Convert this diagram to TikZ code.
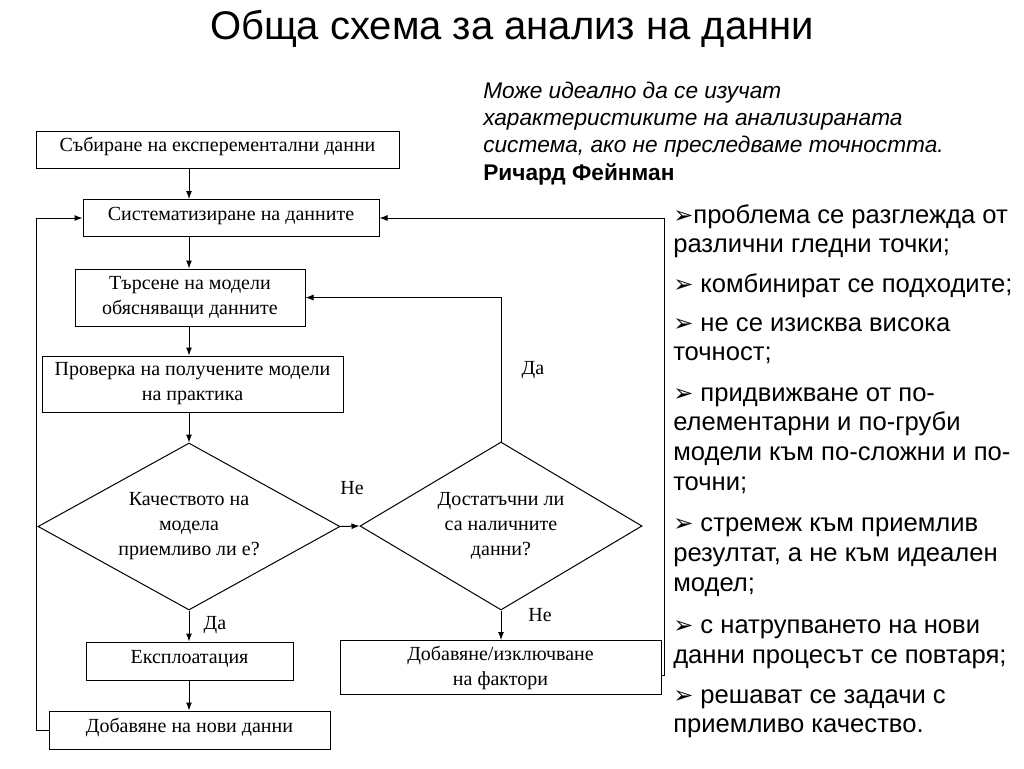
\documentclass[tikz,border=0pt]{standalone}
\usepackage{fontspec}
\setmainfont{Liberation Serif}
\setsansfont{Liberation Sans}
\newfontfamily\dingfont{DejaVu Sans}
\usetikzlibrary{shapes.geometric,arrows.meta,calc}
\def\px{0.75pt}
\def\bul{{\dingfont\fontsize{18}{18}\selectfont ➢}}
\newcommand\flowbox[6][]{%
  \node[box, #1, minimum width=#5*\px, minimum height=#6*\px] (#2) at (#3) {#4};
}
\newcommand\answer[3]{%
  \node[lbl] (#1) at (#2) {#3};
}

\begin{document}
\begin{tikzpicture}
[x=0.75pt, y=-0.75pt,
 box/.style={draw, line width=0.75pt, rectangle, inner sep=0, align=center,
   font=\fontsize{15}{18.75}\selectfont},
 oneline/.style={text height=8pt, text depth=5pt},
 dec/.style={draw, line width=0.75pt, diamond, aspect=1.8, inner sep=0, align=center,
   font=\fontsize{15}{18.75}\selectfont},
 flow/.style={-{Latex[length=6pt,width=4.5pt]}, line width=0.75pt},
 lbl/.style={inner sep=0, font=\fontsize{15}{18.75}\selectfont},
 quote/.style={anchor=base west, inner sep=0, font=\sffamily\itshape\fontsize{17}{20}\selectfont},
 bline/.style={anchor=base west, inner sep=0, font=\sffamily\fontsize{19.2}{22}\selectfont}]
\useasboundingbox (0,0) rectangle (1024,768);
% title
\node[anchor=base, inner sep=0, font=\sffamily\fontsize{30}{36}\selectfont] (title) at (512,39)
  {Обща схема за анализ на данни};
% quote
\node[quote] (q1) at (483,98)  {Може идеално да се изучат};
\node[quote] (q2) at (483,125) {характеристиките на анализираната};
\node[quote] (q3) at (483,152) {система, ако не преследваме точността.};
\node[quote, font=\sffamily\bfseries\fontsize{17}{20}\selectfont] (q4) at (483,180) {Ричард Фейнман};
% flowchart
\flowbox[oneline]{sobir}{217.5,149.5}{Събиране на експерементални данни}{363}{37}
\flowbox[oneline]{sist}{231,218}{Систематизиране на данните}{296}{37}
\flowbox{tars}{190,297.5}{Търсене на модели\\обясняващи данните}{230}{57}
\flowbox{prov}{192.5,384}{Проверка на получените модели\\на практика}{301}{56}
\node[dec, minimum width=302*\px, minimum height=167*\px] (dia1) at (189,526.5)
  {Качеството на\\модела\\приемливо ли е?};
\node[dec, minimum width=282*\px, minimum height=168*\px] (dia2) at (501,526)
  {Достатъчни ли\\са наличните\\данни?};
\flowbox[oneline]{eksp}{189.5,661}{Експлоатация}{207}{38}
\flowbox[oneline]{nov}{189.5,730}{Добавяне на нови данни}{281}{38}
\flowbox{faktor}{500.5,667.5}{Добавяне/изключване\\на фактори}{321}{54}
\draw[flow] (sobir.south -| dia1) -- (sist.north -| dia1);
\draw[flow] (sist.south -| dia1) -- (tars.north -| dia1);
\draw[flow] (tars.south -| dia1) -- (prov.north -| dia1);
\draw[flow] (prov.south -| dia1) -- (dia1.north);
\draw[flow] (dia1.east) -- (dia2.west);
\draw[flow] (dia1.south) -- (eksp.north -| dia1);
\draw[flow] (eksp.south -| dia1) -- (nov.north -| dia1);
\draw[flow] (dia2.north) |- (tars.east);
\draw[flow] (dia2.south) -- (faktor.north -| dia2);
\draw[flow] ([yshift=-6pt]faktor.east) -- ++(3,0) |- (sist.east);
\draw[flow] (nov.west) -- ++(-12,0) |- (sist.west);
\answer{ne1}{352,488}{Не}
\answer{da1}{533,370}{Да}
\answer{ne2}{540,615}{Не}
\answer{da2}{215,625}{Да}
% bullets
\foreach \yb/\txt [count=\i] in {
  223/{\bul проблема се разглежда от},
  252/{различни гледни точки;},
  292/{\bul\ комбинират се подходите;},
  331/{\bul\ не се изисква висока},
  360/{точност;},
  401/{\bul\ придвижване от по-},
  430/{елементарни и по-груби},
  460/{модели към по-сложни и по-},
  490/{точни;},
  531/{\bul\ стремеж към приемлив},
  561/{резултат, а не към идеален},
  591/{модел;},
  633/{\bul\ с натрупването на нови},
  663/{данни процесът се повтаря;},
  703/{\bul\ решават се задачи с},
  732/{приемливо качество.}}
  \node[bline] (line\i) at (673,\yb) {\txt};
\end{tikzpicture}
\end{document}
